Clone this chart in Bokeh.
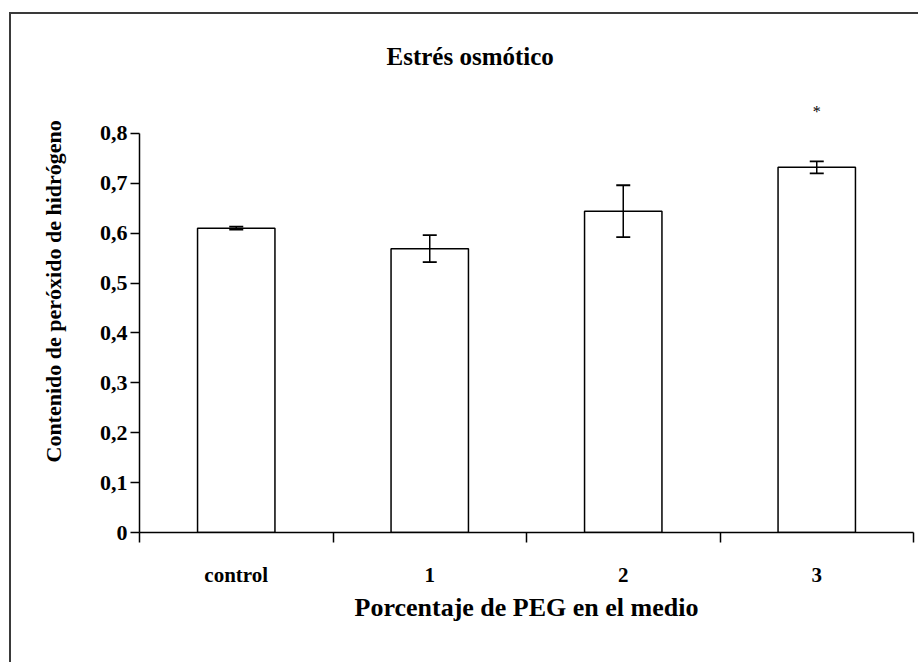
from bokeh.plotting import figure
from bokeh.models import (FixedTicker, CustomJSTickFormatter, Range1d,
                          ColumnDataSource, LinearAxis, Title)
from bokeh.embed import file_html
from bokeh.resources import INLINE

# Data
categories = ["control", "1", "2", "3"]
means = [0.610, 0.569, 0.644, 0.732]
errors = [0.003, 0.027, 0.052, 0.012]
significance = ["", "", "", "*"]
y_ticks = [0.0, 0.1, 0.2, 0.3, 0.4, 0.5, 0.6, 0.7, 0.8]

title_text = "Estrés osmótico"
x_label = "Porcentaje de PEG en el medio"
y_label = "Contenido de peróxido de hidrógeno"

FONT = "Liberation Serif"
INK = "black"

centers = [i + 0.5 for i in range(len(categories))]
upper = [m + e for m, e in zip(means, errors)]
lower = [m - e for m, e in zip(means, errors)]
star_y = [u + 0.1 for u in upper]

# canvas offset by the chart border (left/top lines)
OFF_X, OFF_Y = 11, 14
p = figure(width=920 - OFF_X, height=664 - OFF_Y, output_backend="svg",
           toolbar_location=None,
           x_range=Range1d(0, len(categories)), y_range=Range1d(0, 0.9),
           min_border_left=139 - OFF_X, min_border_right=7,
           min_border_top=83 - OFF_Y, min_border_bottom=132,
           x_axis_type=None, y_axis_type=None)
p.styles = {"margin-left": "9px", "margin-top": "12px",
            "border-left": "2px solid #3a3a3a", "border-top": "2px solid #3a3a3a"}
p.outline_line_color = None
p.xgrid.visible = False
p.ygrid.visible = False
p.background_fill_color = "white"
p.border_fill_color = "white"

src = ColumnDataSource(dict(x=centers, top=means, upper=upper, lower=lower,
                            star_y=star_y, sig=significance))
p.vbar(x="x", top="top", width=0.4, bottom=0, source=src,
       fill_color="white", line_color=INK, line_width=1.5)
# error bars
p.segment(x0="x", y0="lower", x1="x", y1="upper", source=src,
          line_color=INK, line_width=1.5)
p.scatter(x="x", y="upper", marker="dash", size=14, source=src,
          line_color=INK, line_width=1.8)
p.scatter(x="x", y="lower", marker="dash", size=14, source=src,
          line_color=INK, line_width=1.8)
# significance markers
p.text(x="x", y="star_y", text="sig", source=src, text_font=FONT,
       text_font_size="16px", text_align="center", text_baseline="middle",
       text_color=INK)

# y axis
yax = LinearAxis(ticker=FixedTicker(ticks=y_ticks, minor_ticks=[]),
                 formatter=CustomJSTickFormatter(code="""
                     const s = tick.toFixed(1).replace('.', ',');
                     return s == '0,0' ? '0' : s;"""),
                 bounds=(0, 0.8))
yax.axis_line_width = 1.5
yax.axis_line_color = INK
yax.major_tick_line_width = 1.5
yax.major_tick_line_color = INK
yax.major_tick_out = 9
yax.major_tick_in = 0
yax.major_label_text_font = FONT
yax.major_label_text_font_style = "bold"
yax.major_label_text_font_size = "22px"
yax.major_label_text_color = INK
yax.major_label_standoff = 3
p.add_layout(yax, "left")

# y axis title (placed as a side title so it can sit higher, as in the original)
p.add_layout(Title(text=y_label, align="left", offset=70, vertical_align="top",
                   text_font=FONT, text_font_style="bold",
                   text_font_size="22px", text_color=INK, standoff=58), "left")

# x axis: boundaries ticked, labels at category centres
xax = LinearAxis(ticker=FixedTicker(ticks=centers,
                                    minor_ticks=list(range(len(categories) + 1))))
xax.major_label_overrides = {c: lab for c, lab in zip(centers, categories)}
xax.axis_line_width = 1.5
xax.axis_line_color = INK
xax.major_tick_out = 0
xax.major_tick_in = 0
xax.minor_tick_out = 10
xax.minor_tick_in = 0
xax.minor_tick_line_width = 1.5
xax.minor_tick_line_color = INK
xax.major_label_text_font = FONT
xax.major_label_text_font_style = "bold"
xax.major_label_text_font_size = "21px"
xax.major_label_text_color = INK
xax.major_label_standoff = 20
xax.axis_label = x_label
xax.axis_label_text_font = FONT
xax.axis_label_text_font_style = "bold"
xax.axis_label_text_font_size = "26px"
xax.axis_label_text_color = INK
xax.axis_label_standoff = 3
p.add_layout(xax, "below")

# title
p.add_layout(Title(text=title_text, align="left", offset=247,
                   text_font=FONT, text_font_style="bold",
                   text_font_size="25px", text_color=INK, standoff=27), "above")

open("out.html", "w").write(file_html(p, INLINE))
